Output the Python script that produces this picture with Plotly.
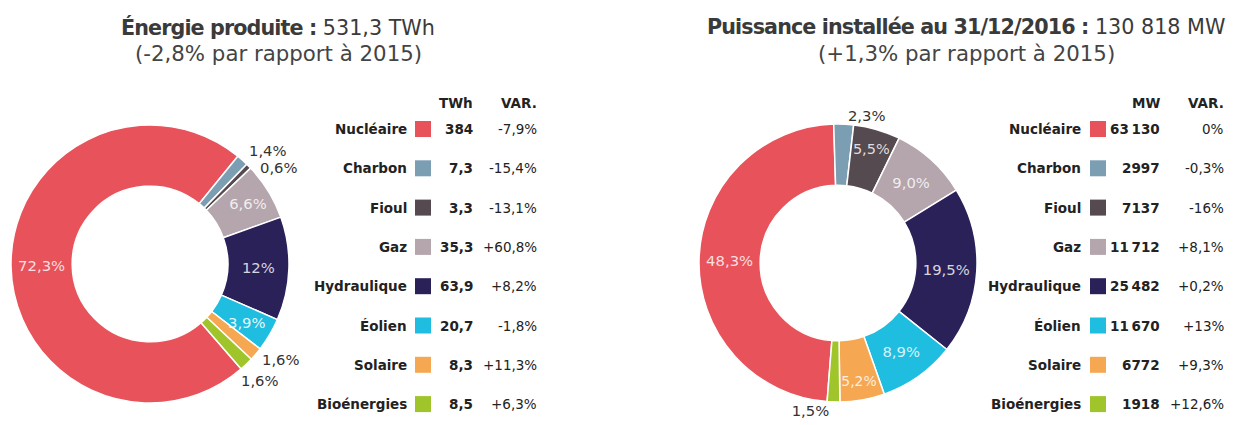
import math
import plotly.graph_objects as go

# filières et couleurs communes aux deux graphiques
sources = ["Nucléaire", "Charbon", "Fioul", "Gaz", "Hydraulique", "Éolien", "Solaire", "Bioénergies"]
colors = ["#e8525a", "#7b9eb3", "#554a50", "#b5a5ad", "#2a2159", "#1fbde0", "#f5a851", "#9fc52b"]

# énergie produite 2016 (TWh)
energie_twh = [384, 7.3, 3.3, 35.3, 63.9, 20.7, 8.3, 8.5]
energie_txt = ["384", "7,3", "3,3", "35,3", "63,9", "20,7", "8,3", "8,5"]
energie_var = ["-7,9%", "-15,4%", "-13,1%", "+60,8%", "+8,2%", "-1,8%", "+11,3%", "+6,3%"]
energie_pct = ["72,3%", "1,4%", "0,6%", "6,6%", "12%", "3,9%", "1,6%", "1,6%"]

# puissance installée au 31/12/2016 (MW)
puissance_mw = [63130, 2997, 7137, 11712, 25482, 11670, 6772, 1918]
puissance_txt = ["63\u202f130", "2997", "7137", "11\u202f712", "25\u202f482", "11\u202f670", "6772", "1918"]
puissance_var = ["0%", "-0,3%", "-16%", "+8,1%", "+0,2%", "+13%", "+9,3%", "+12,6%"]
puissance_pct = ["48,3%", "2,3%", "5,5%", "9,0%", "19,5%", "8,9%", "5,2%", "1,5%"]

W, H = 1237, 425
OFF = 8          # marge du <body> dans la page html
FW, FH = W - OFF, H - OFF
FONT = "DejaVu Sans"
DARK = "#222222"
HOLE = 0.56

fig = go.Figure()


def px_domain(cx, cy, r):
    return dict(x=[(cx - r - OFF) / FW, (cx + r - OFF) / FW],
                y=[(H - cy - r) / FH, (H - cy + r) / FH])


def donut(values, texts, positions, cx, cy, r, rotation):
    fig.add_trace(go.Pie(
        labels=sources, values=values, text=texts, textinfo="text",
        textposition=positions, insidetextorientation="horizontal",
        sort=False, direction="clockwise", rotation=rotation, hole=HOLE,
        marker=dict(colors=colors, line=dict(color="white", width=1.5)),
        insidetextfont=dict(family=FONT, size=14.8, color="rgba(255,255,255,0.82)"),
        outsidetextfont=dict(family=FONT, size=14.8, color="#333333"),
        domain=px_domain(cx, cy, r),
        showlegend=False, hoverinfo="label+value",
    ))


def mid_angles(values, rotation):
    total = float(sum(values))
    out, a = [], rotation
    for v in values:
        span = 360.0 * v / total
        out.append(a + span / 2)
        a += span
    return out


# donut de gauche : petites parts étiquetées à la main (sans traits de rappel)
L_CX, L_CY, L_R, L_ROT = 150, 264, 139, 139
left_pos = ["inside", "none", "none", "inside", "inside", "none", "none", "none"]
donut(energie_twh, energie_pct, left_pos, L_CX, L_CY, L_R, L_ROT)

# index: (rayon relatif, ancrage, décalage x, décalage y, couleur)
left_labels = {
    1: (1.0, "left", 5, 10, "#333333"),
    2: (1.0, "left", 9, -1, "#333333"),
    5: ((1 + HOLE) / 2, "center", 4, -3, "rgba(255,255,255,0.9)"),
    6: (1.0, "left", 4, -5, "#333333"),
    7: (1.0, "left", -7, -16, "#333333"),
}
angles = mid_angles(energie_twh, L_ROT)
for i, (rr, anchor, dx, dy, col) in left_labels.items():
    a = math.radians(angles[i])
    fig.add_annotation(
        x=L_CX + L_R * rr * math.sin(a), y=L_CY - L_R * rr * math.cos(a),
        text=energie_pct[i], showarrow=False, xanchor=anchor, yanchor="middle",
        xshift=dx, yshift=dy, font=dict(family=FONT, size=14.8, color=col))

# donut de droite
right_pos = ["inside", "outside", "inside", "inside", "inside", "inside", "inside", "outside"]
donut(puissance_mw, puissance_pct, right_pos, 838, 263, 139, 184.5)

# tableaux à droite de chaque donut
ROW0, STEP = 129, 39.3
rows_y = [ROW0 + i * STEP for i in range(len(sources))]


def table(unit, vals, var, x_label, x_swatch, x_val, x_var):
    fig.add_trace(go.Scatter(
        x=[x_swatch] * len(sources), y=rows_y, mode="markers",
        marker=dict(symbol="square", size=16, color=colors, line=dict(width=0)),
        xaxis="x", yaxis="y", showlegend=False, hoverinfo="skip",
    ))
    f = dict(family=FONT, size=13.5, color=DARK)
    fig.add_annotation(x=x_val, y=103, text="<b>" + unit + "</b>", xanchor="right", showarrow=False, font=f)
    fig.add_annotation(x=x_var, y=103, text="<b>VAR.</b>", xanchor="right", showarrow=False, font=f)
    for name, v, d, y in zip(sources, vals, var, rows_y):
        fig.add_annotation(x=x_label, y=y, text="<b>" + name + "</b>", xanchor="right", showarrow=False, font=f)
        fig.add_annotation(x=x_val, y=y, text="<b>" + v + "</b>", xanchor="right", showarrow=False, font=f)
        fig.add_annotation(x=x_var, y=y, text=d, xanchor="right", showarrow=False, font=f)


table("TWh", energie_txt, energie_var, 409, 423, 475, 539)
table("MW", puissance_txt, puissance_var, 1083, 1098, 1162, 1226)

# titres
BOLD = "<b><span style='letter-spacing:-0.9px'>%s</span></b> %s"
titles = [
    (278, BOLD % ("Énergie produite :", "531,3 TWh"), "(-2,8% par rapport à 2015)"),
    (966, BOLD % ("Puissance installée au 31/12/2016 :", "130 818 MW"), "(+1,3% par rapport à 2015)"),
]
for cx, line1, line2 in titles:
    fig.add_annotation(x=cx, y=27, text=line1, showarrow=False,
                       font=dict(family=FONT, size=20.7, color="#3a3a3a"))
    fig.add_annotation(x=cx, y=53, text=line2, showarrow=False,
                       font=dict(family=FONT, size=21.3, color="#444444"))

fig.update_layout(
    width=FW, height=FH, margin=dict(l=0, r=0, t=0, b=0),
    paper_bgcolor="white", plot_bgcolor="white",
    xaxis=dict(range=[OFF, W], domain=[0, 1], visible=False, fixedrange=True),
    yaxis=dict(range=[H, OFF], domain=[0, 1], visible=False, fixedrange=True),
)

fig.write_html("out.html")
